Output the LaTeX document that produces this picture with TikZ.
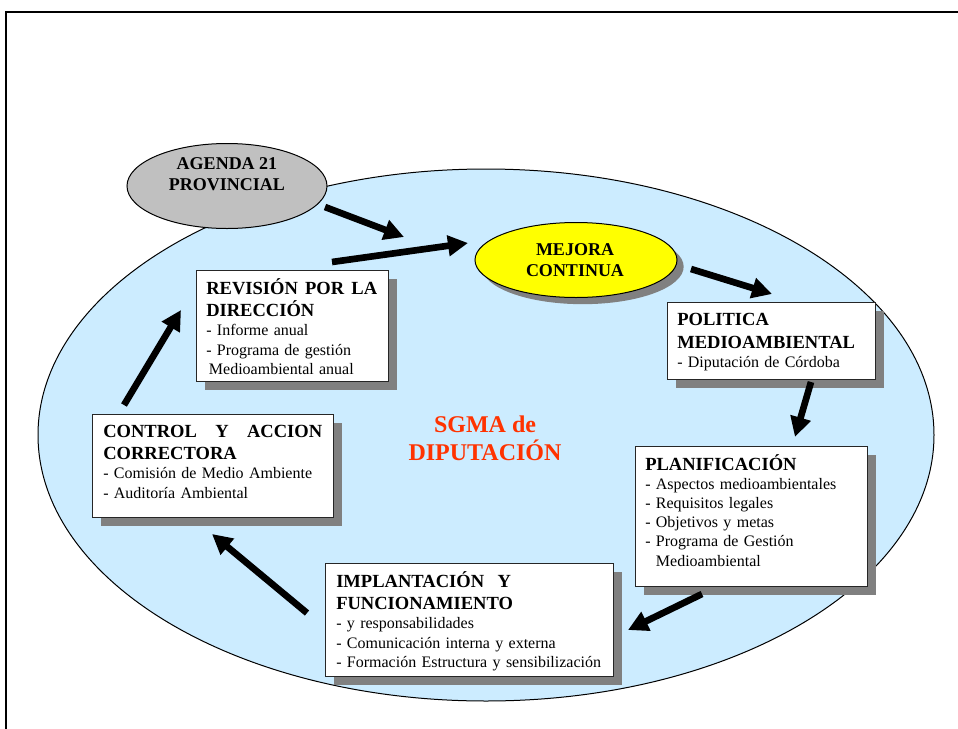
\documentclass[tikz,border=0pt]{standalone}
\usepackage{fontspec}
\setmainfont{Liberation Serif}
\usetikzlibrary{shapes.geometric,arrows.meta,shadows}
\setlength{\parindent}{0pt}

\definecolor{skyfill}{HTML}{CCECFF}
\definecolor{agendagray}{HTML}{C0C0C0}
\definecolor{shadowgray}{HTML}{808080}
\definecolor{sgmared}{HTML}{FF3300}
\definecolor{mejorayellow}{HTML}{FFFF00}

\newcommand{\headfont}{\fontsize{13.9pt}{17pt}\selectfont\bfseries}
\newcommand{\bodyfont}{\fontsize{12pt}{14.4pt}\selectfont}

\begin{document}
\begin{tikzpicture}[x=0.75pt, y=-0.75pt,
  stagebox/.style={rectangle, draw=black!85, line width=0.9pt, fill=white,
    inner sep=0pt, anchor=north west,
    drop shadow={shadow xshift=6pt, shadow yshift=-6pt, fill=shadowgray, opacity=1}},
  boxtext/.style={anchor=base west, inner sep=0pt, align=left, font=\bodyfont},
  ovaltext/.style={anchor=base, inner sep=0pt, align=center,
    font=\fontsize{13.5pt}{16pt}\selectfont\bfseries},
  flow/.style={line width=5pt, -{Triangle[length=15pt, width=15pt]}}]

\useasboundingbox (0,0) rectangle (958,729);

% the management-system cycle ground
\node[ellipse, draw=black, line width=0.75pt, fill=skyfill,
  minimum width=672pt, minimum height=399pt, inner sep=0pt] (sgma) at (486,435) {};

% outer ovals (text anchored at the baseline of its last line)
\node[ellipse, draw=black, line width=0.75pt, fill=agendagray,
  minimum width=150pt, minimum height=63.75pt, inner sep=0pt] (agenda) at (227,186) {};
\node[ovaltext] (agendaT) at (227,190.7) {AGENDA 21\\PROVINCIAL};

\node[ellipse, draw=black, line width=0.75pt, fill=mejorayellow,
  minimum width=151.5pt, minimum height=56.25pt, inner sep=0pt,
  drop shadow={shadow xshift=5pt, shadow yshift=-5pt, fill=shadowgray, opacity=1}]
  (mejora) at (576,260) {};
\node[ovaltext] (mejoraT) at (575,276.7) {MEJORA\\CONTINUA};

% central title
\node[anchor=base, inner sep=0pt, align=center, text=sgmared,
  font=\fontsize{18pt}{21pt}\selectfont\bfseries] (title) at (485,460)
  {SGMA de\\DIPUTACIÓN};

% stage boxes
\node[stagebox, minimum width=144pt, minimum height=83.25pt] (rev) at (196,270) {};
\node[boxtext, text width=128.25pt] (revT) at ([shift={(10,24)}]rev.north west)
  {{\headfont REVISIÓN\hfill POR\hfill LA\\DIRECCIÓN\par}
   - Informe anual\\
   - Programa de gestión\\
   \hspace*{2pt}Medioambiental anual};

\node[stagebox, minimum width=156pt, minimum height=57.75pt] (pol) at (667,302) {};
\node[boxtext, text width=150pt] (polT) at ([shift={(10,23)}]pol.north west)
  {{\headfont POLITICA\\[0.8pt]MEDIOAMBIENTAL\par}
   - Diputación de Córdoba};

\node[stagebox, minimum width=174pt, minimum height=105pt] (plan) at (635,446) {};
\node[boxtext, text width=165pt] (planT) at ([shift={(10,24)}]plan.north west)
  {{\headfont PLANIFICACIÓN\par}
   - Aspectos medioambientales\\
   - Requisitos legales\\
   - Objetivos y metas\\
   - Programa de Gestión\\
   \hspace*{8pt}Medioambiental};

\node[stagebox, minimum width=180.75pt, minimum height=77.25pt] (ctrl) at (92,414) {};
\node[boxtext, text width=164.25pt] (ctrlT) at ([shift={(11,23)}]ctrl.north west)
  {{\headfont CONTROL\hfill Y\hfill ACCION\\CORRECTORA\par}
   - Comisión de Medio Ambiente\\
   - Auditoría Ambiental};

\node[stagebox, minimum width=216pt, minimum height=84.75pt] (impl) at (325,563) {};
\node[boxtext, text width=205pt] (implT) at ([shift={(11,24)}]impl.north west)
  {{\headfont IMPLANTACIÓN\hspace{10pt}Y\\FUNCIONAMIENTO\par}
   - y responsabilidades\\
   - Comunicación interna y externa\\
   - Formación Estructura y sensibilización};

% arrow ends
\coordinate (agendaOut) at (325,207);
\coordinate (mejoraIn1) at (404,237);
\coordinate (revOut)    at (332,262);
\coordinate (mejoraIn2) at (468,243);
\coordinate (mejoraOut) at (691,269);
\coordinate (polIn)     at (772,294);
\coordinate (polOut)    at (811,382);
\coordinate (planIn)    at (795,437);
\coordinate (planOut)   at (702,594);
\coordinate (implIn)    at (628,630);
\coordinate (implOut)   at (307,613);
\coordinate (ctrlIn)    at (212,534);
\coordinate (ctrlOut)   at (124,405);
\coordinate (revIn)     at (181,310);

% cycle arrows
\draw[flow] (agendaOut) -- (mejoraIn1);
\draw[flow] (revOut) -- (mejoraIn2);
\draw[flow] (mejoraOut) -- (polIn);
\draw[flow] (polOut) -- (planIn);
\draw[flow] (planOut) -- (implIn);
\draw[flow] (implOut) -- (ctrlIn);
\draw[flow] (ctrlOut) -- (revIn);

% page frame
\draw[line width=2.2pt] (962,12) -- (6,12) -- (6,733);
\end{tikzpicture}
\end{document}
